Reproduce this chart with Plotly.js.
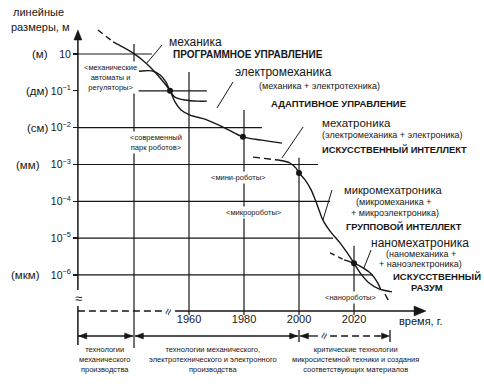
<!DOCTYPE html>
<html><head><meta charset="utf-8">
<script src="https://cdn.plot.ly/plotly-3.0.1.min.js"></script>
<style>html,body{margin:0;padding:0;background:#fff}#chart{width:484px;height:386px}</style>
</head><body><div id="chart"></div>
<script>
// ================= DATA =================
// time axis (years) and size levels (decade index, schematic)
const timeTicks = [1960, 1980, 2000, 2020];
const sizeLevels = [0, -1, -2, -3, -4, -5, -6];
const sizeLabels = ['10', '10<sup>−1</sup>', '10<sup>−2</sup>', '10<sup>−3</sup>', '10<sup>−4</sup>', '10<sup>−5</sup>', '10<sup>−6</sup>'];
const sizeUnits = ['(м)', '(дм)', '(см)', '(мм)', '', '', '(мкм)'];

// main curve: механика -> электромеханика
const mainLeadYear = [1926.9, 1932.4];
const mainLeadSize = [0.65, 0.33];
const mainYear = [1932.4, 1939.6, 1944.7, 1949.5, 1953.1, 1954.9, 1957.1, 1960.4, 1965.8, 1973.1, 1979.6, 1986.5, 1993.8];
const mainSize = [0.33, 0.03, -0.27, -0.65, -1.0, -1.30, -1.52, -1.66, -1.77, -2.01, -2.25, -2.34, -2.42];

// механические автоматы (sigmoid branch)
const mechLeadYear = [1939.3, 1942.9];
const mechLeadSize = [-0.49, -0.46];
const mechYear = [1942.9, 1946.5, 1949.5, 1951.6, 1953.1, 1954.9, 1958.5, 1963.3, 1966.5];
const mechSize = [-0.46, -0.46, -0.57, -0.76, -1.0, -1.17, -1.25, -1.28, -1.28];

// мехатроника -> микромехатроника
const mtrLeadYear = [1983.3, 1992.4];
const mtrLeadSize = [-2.80, -2.88];
const mtrYear = [1992.4, 1996.7, 1998.9, 2000.0, 2002.2, 2004.4, 2005.8, 2007.3, 2008.7, 2011.3, 2014.9, 2017.8, 2020.0, 2022.5, 2025.5, 2029.1, 2033.8];
const mtrSize = [-2.88, -2.96, -3.10, -3.23, -3.42, -3.69, -3.94, -4.24, -4.51, -4.81, -5.13, -5.43, -5.68, -5.97, -6.22, -6.38, -6.46];

// наномехатроника
const nanoLeadYear = [2011.3, 2016.4];
const nanoLeadSize = [-5.40, -5.59];
const nanoYear = [2016.4, 2020.0, 2023.3, 2026.2, 2028.4, 2029.8];
const nanoSize = [-5.59, -5.68, -5.81, -5.97, -6.19, -6.41];
const nanoTailYear = [2031.3, 2032.4];
const nanoTailSize = [-6.52, -6.68];

// key points
const dotYear = [1953.1, 1979.6, 2000.0, 2020.0];
const dotSize = [-1.0, -2.25, -3.23, -5.68];

// ================= LAYOUT GEOMETRY =================
const W = 484, H = 386;
const X0 = 1891.27, X1 = 2067.27, Y0 = -9.015, Y1 = 1.466;
const kx = (X1 - X0) / W, ky = (Y1 - Y0) / H; // data units per pixel
const axisYear = 1919.6, timeAxisV = -6.978, rowV = -7.657;
const INK = '#161616';
const FONT = 'Liberation Sans, Arial, sans-serif';

const hStart = [1919.6, 1941.5, 1919.6, 1919.6, 1919.6, 1919.6, 1919.6];
const hEnd = [1946.5, 1966.5, 1986.5, 2006.9, 2011.3, 2012.4, 2026.9];
const vYears = [1940].concat(timeTicks);
const vTop = [0.27, -0.49, -1.52, -2.82, -5.21];
const vBot = [-7.98, -7.09, -7.09, -7.09, -7.09];

const shapes = [];
const L = (x0, y0, x1, y1, w, dash) => shapes.push({type: 'line', xref: 'x', yref: 'y', x0, y0, x1, y1, line: {color: INK, width: w || 1.2, dash: dash || 'solid'}});
// arrowhead as filled path; len/half in pixels
const head = (x, y, dir, len, half) => {
  let p;
  if (dir === 'up') p = `M${x - half * kx},${y - len * ky}L${x},${y}L${x + half * kx},${y - len * ky}Z`;
  else if (dir === 'right') p = `M${x - len * kx},${y + half * ky}L${x},${y}L${x - len * kx},${y - half * ky}Z`;
  else p = `M${x + len * kx},${y + half * ky}L${x},${y}L${x + len * kx},${y - half * ky}Z`;
  shapes.push({type: 'path', xref: 'x', yref: 'y', path: p, fillcolor: INK, line: {color: INK, width: 0.5}});
};

sizeLevels.forEach((v, i) => L(hStart[i], v, hEnd[i], v));
vYears.forEach((yr, i) => L(yr, vTop[i], yr, vBot[i]));
// y axis (with break) and arrow
L(axisYear, 0.45, axisYear, -6.408, 1.5);
L(axisYear, -6.842, axisYear, -7.90, 1.5);
head(axisYear, 0.651, 'up', 10, 4);
// time axis: dashed start, solid part, arrow
L(axisYear, timeAxisV, 1950.5, timeAxisV, 1.4, '7px,4px');
L(1954.9, timeAxisV, 2043, timeAxisV, 1.5);
head(2046.2, timeAxisV, 'right', 12, 5);
// period arrows row
L(axisYear, rowV, 1939.6, rowV, 1.3);
head(axisYear + 0.3, rowV, 'left', 8, 3);
head(1939.5, rowV, 'right', 8, 3);
L(1940.4, rowV, 1999.6, rowV, 1.3);
head(1940.5, rowV, 'left', 8, 3);
head(1999.5, rowV, 'right', 8, 3);
L(2000.4, rowV, 2006.9, rowV, 1.3);
head(2000.5, rowV, 'left', 8, 3);
L(2011.3, rowV, 2030.8, rowV, 1.3, '7px,4px');
head(2032.9, rowV, 'right', 8, 3);
// bars on arrow row
L(2000, -7.494, 2000, -7.82, 1.3);
L(2033.1, -7.494, 2033.1, -7.82, 1.3);
// leader lines
L(1944.7, -0.245, 1950.2, 0.244, 1);
L(1970.2, -1.466, 1976.0, -0.760, 1);
L(1993.8, -2.824, 2001.5, -1.982, 1);
L(2008.7, -4.507, 2012.0, -3.693, 1);
L(2023.6, -5.811, 2026.2, -5.322, 1);

const annotations = [];
const P = (px, py) => ({x: px / W, y: 1 - py / H, xref: 'paper', yref: 'paper'});
const text = (t, px, py, size, opts) => annotations.push(Object.assign(P(px, py), {
  text: t, showarrow: false, xanchor: 'left', yanchor: 'middle',
  font: {family: FONT, size: size, color: INK}
}, opts || {}));

text('линейные', 11, 12, 11);
text('размеры, м', 9, 27, 11);
// units
const unitPos = [[50, 54], [50, 91], [50, 128], [42, 165], null, null, [42, 275]];
sizeUnits.forEach((u, i) => { if (u) text(u, unitPos[i][0], unitPos[i][1], 11.5, {xanchor: 'right'}); });

const B = s => '<b>' + s + '</b>';
text('механика', 167, 42, 12);
text(B('ПРОГРАММНОЕ УПРАВЛЕНИЕ'), 171, 54, 10);
text('электромеханика', 233, 72, 12);
text('(механика + электротехника)', 257, 86, 9);
text(B('АДАПТИВНОЕ УПРАВЛЕНИЕ'), 269, 103, 9.5);
text('мехатроника', 320, 123, 11.5);
text('(электромеханика + электроника)', 320, 135, 9);
text(B('ИСКУССТВЕННЫЙ ИНТЕЛЛЕКТ'), 320, 149, 9.3);
text('микромехатроника', 342, 190, 11.2);
text('(микромеханика +', 354, 202, 9);
text('+ микроэлектроника)', 349, 213, 9);
text(B('ГРУППОВОЙ ИНТЕЛЛЕКТ'), 344, 226, 9.2);
text('наномехатроника', 369, 243, 12);
text('(наномеханика +', 384, 254, 9);
text('+ наноэлектроника)', 377, 264, 9);
text(B('ИСКУССТВЕННЫЙ'), 391, 276, 9.5);
text(B('РАЗУМ'), 409, 287, 9.5);
text('время, г.', 397, 321, 11);

// small labels with white background
const lab = (t, px, py) => text(t, px, py, 7.5, {xanchor: 'center', bgcolor: '#fff', borderpad: 1});
lab('&lt;механические<br>автоматы и<br>регуляторы&gt;', 110, 77);
lab('&lt;современный<br>парк роботов&gt;', 156, 142);
lab('&lt;мини-роботы&gt;', 238, 177);
lab('&lt;микророботы&gt;', 254, 213);
lab('&lt;нанороботы&gt;', 350, 297);

// bottom period captions
const cap = (t, px) => text(t, px, 359, 7.5, {xanchor: 'center'});
cap('технологии<br>механического<br>производства', 104);
cap('технологии механического,<br>электротехнического и электронного<br>производства', 213);
cap('критические технологии<br>микросистемной техники и создания<br>соответствующих материалов', 355);

// break symbols
text('≈', 78, 298, 13, {xanchor: 'center'});
text('≈', 168, 312, 12, {xanchor: 'center', textangle: -70});
text('≈', 324, 336, 12, {xanchor: 'center', textangle: -70});

// ================= TRACES =================
const ln = (x, y, dash, shape) => ({x, y, type: 'scatter', mode: 'lines', hoverinfo: 'skip',
  line: {color: INK, width: 1.4, dash: dash || 'solid', shape: shape || 'spline', smoothing: 0.8}});
const traces = [
  ln(mainLeadYear, mainLeadSize, '6px,4px', 'linear'),
  ln(mainYear, mainSize),
  ln(mechLeadYear, mechLeadSize, '4px,3px', 'linear'),
  ln(mechYear, mechSize),
  ln(mtrLeadYear, mtrLeadSize, '7px,4px', 'linear'),
  ln(mtrYear, mtrSize),
  ln(nanoLeadYear, nanoLeadSize, '5px,4px', 'linear'),
  ln(nanoYear, nanoSize),
  ln(nanoTailYear, nanoTailSize, 'solid', 'linear'),
  {x: dotYear, y: dotSize, type: 'scatter', mode: 'markers', hoverinfo: 'skip', marker: {color: INK, size: 6}}
];

const layout = {
  width: W, height: H, margin: {l: 0, r: 0, t: 0, b: 0},
  paper_bgcolor: '#fff', plot_bgcolor: '#fff', showlegend: false,
  font: {family: FONT, color: INK},
  xaxis: {range: [X0, X1], domain: [0, 1], anchor: 'free', position: 1 - 311 / H,
    tickvals: timeTicks, ticktext: timeTicks.map(String), ticks: '', showline: false,
    showgrid: false, zeroline: false, automargin: false, fixedrange: true,
    tickfont: {family: FONT, size: 11, color: INK}},
  yaxis: {range: [Y0, Y1], domain: [0, 1], anchor: 'free', position: 78 / W,
    tickvals: sizeLevels, ticktext: sizeLabels, ticks: 'outside', ticklen: 5, tickwidth: 1.3,
    tickcolor: INK, showline: false, showgrid: false, zeroline: false, automargin: false,
    fixedrange: true, tickfont: {family: FONT, size: 10.5, color: INK}},
  shapes, annotations
};
Plotly.newPlot('chart', traces, layout, {staticPlot: true, displayModeBar: false});
</script></body></html>
